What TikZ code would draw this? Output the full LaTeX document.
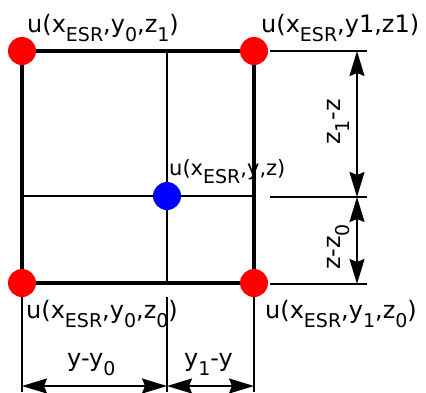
\documentclass[tikz,border=0pt]{standalone}
\usepackage{fontspec}
\setmainfont{DejaVu Sans}
\usetikzlibrary{arrows.meta}
\newcommand{\lbsub}[1]{\raisebox{-9pt}{\fontsize{19}{21}\selectfont #1}}
\newcommand{\lbsubm}[1]{\raisebox{-8.3pt}{\fontsize{19}{21}\selectfont #1}}
\begin{document}
\begin{tikzpicture}[x=1pt,y=-1pt,
  thickline/.style={line width=4pt},
  thinline/.style={line width=2pt},
  extline/.style={line width=2pt},
  dimline/.style={line width=2pt,>={Stealth[length=25pt,width=15pt,inset=3pt]},<->},
  reddot/.style={circle,fill=red,minimum size=28pt,inner sep=0pt},
  bluedot/.style={circle,fill=blue,minimum size=28pt,inner sep=0pt},
  lbl/.style={inner sep=0pt,font=\fontsize{24}{28}\selectfont},
  lblm/.style={inner sep=0pt,font=\fontsize{21}{24}\selectfont}]
\useasboundingbox (0,0) rectangle (426,392);
% grid corners
\coordinate (TL) at (22,51);
\coordinate (TR) at (254,51);
\coordinate (BL) at (22,283);
\coordinate (BR) at (254,283);
\coordinate (MT) at (167,51);
\coordinate (MB) at (167,283);
\coordinate (ML) at (22,196);
\coordinate (MR) at (254,196);
% extension line ends
\coordinate (E1a) at (270,51);  \coordinate (E1b) at (367,51);
\coordinate (E2a) at (270,197); \coordinate (E2b) at (367,197);
\coordinate (E3a) at (270,284); \coordinate (E3b) at (367,284);
\coordinate (V1a) at (22,297);  \coordinate (V1b) at (22,392);
\coordinate (V2a) at (167,297); \coordinate (V2b) at (167,392);
\coordinate (V3a) at (254,297); \coordinate (V3b) at (254,392);
% dimension arrow ends
\coordinate (A1) at (357,51);
\coordinate (A2) at (357,197);
\coordinate (A3) at (357,284);
\coordinate (H1) at (22,386);
\coordinate (H2) at (167,386);
\coordinate (H3) at (254,386);
% inner lines
\draw[thinline] (MT) -- (MB);
\draw[thinline] (ML) -- (MR);
% outer square
\draw[thickline] (TL) -- (TR) -- (BR) -- (BL) -- cycle;
% extension lines
\draw[extline] (E1a) -- (E1b);
\draw[extline] (E2a) -- (E2b);
\draw[extline] (E3a) -- (E3b);
\draw[extline] (V1a) -- (V1b);
\draw[extline] (V2a) -- (V2b);
\draw[extline] (V3a) -- (V3b);
% dimension arrows
\draw[dimline] (A1) -- (A2);
\draw[dimline] (A2) -- (A3);
\draw[dimline] (H1) -- (H2);
\draw[dimline] (H2) -- (H3);
% dots
\node[reddot] (dTL) at (TL) {};
\node[reddot] (dTR) at (TR) {};
\node[reddot] (dBL) at (BL) {};
\node[reddot] (dBR) at (BR) {};
\node[bluedot] (dM) at (167,196) {};
% labels
\node[lbl,anchor=base west] (lTL) at (27,32) {u(x\lbsub{ESR},y\lbsub{0},z\lbsub{1})};
\node[lbl,anchor=base west] (lTR) at (261,32) {u(x\lbsub{ESR},y1,z1)};
\node[lblm,anchor=base west] (lM) at (169,175) {u(x\lbsubm{ESR},y,z)};
\node[lbl,anchor=base west] (lBL) at (26,318) {u(x\lbsub{ESR},y\lbsub{0},z\lbsub{0})};
\node[lbl,anchor=base west] (lBR) at (265,318) {u(x\lbsub{ESR},y\lbsub{1},z\lbsub{0})};
\node[lbl,anchor=base west] (lH1) at (67,366) {y-y\lbsub{0}};
\node[lbl,anchor=base west] (lH2) at (184,366) {y\lbsub{1}-y};
\node[lbl,anchor=base,rotate=90] (lV1) at (340,122) {z\lbsub{1}-z};
\node[lbl,anchor=base,rotate=90] (lV2) at (340,247) {z-z\lbsub{0}};
\end{tikzpicture}
\end{document}
